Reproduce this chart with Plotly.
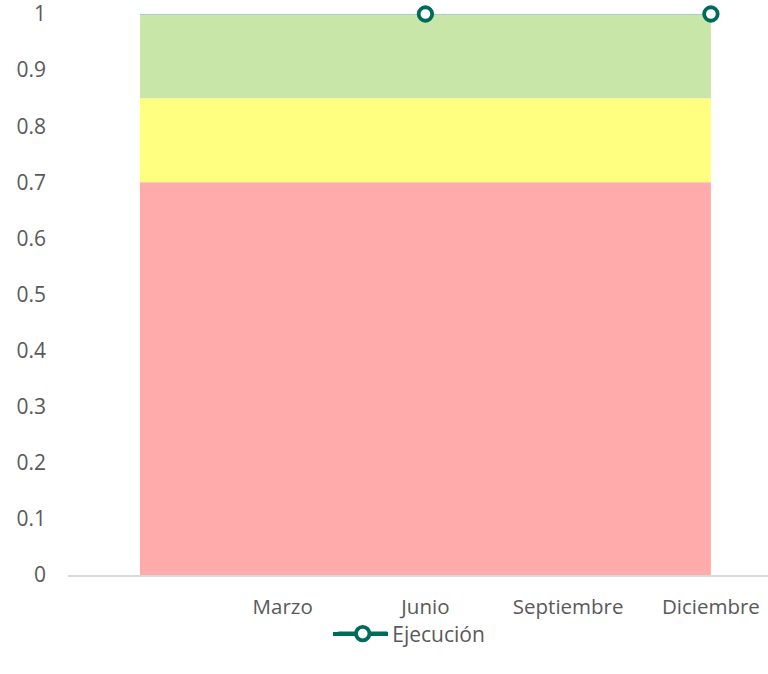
import plotly.graph_objects as go

x_idx = [0, 1, 2, 3, 4]
tick_labels = ["", "Marzo", "Junio", "Septiembre", "Diciembre"]
rojo = [0.7, 0.7, 0.7, 0.7, 0.7]
amarillo = [0.15, 0.15, 0.15, 0.15, 0.15]
verde = [0.15, 0.15, 0.15, 0.15, 0.15]
ejecucion = [None, None, 1, None, 1]

font_fam = "Open Sans"
gray = "#595959"
teal = "#006B5B"

fig = go.Figure()
fig.add_trace(go.Scatter(x=x_idx, y=rojo, stackgroup="a", mode="lines",
                         line=dict(width=0, color="#FFABAB"), fillcolor="#FFABAB",
                         showlegend=False, hoverinfo="skip"))
fig.add_trace(go.Scatter(x=x_idx, y=amarillo, stackgroup="a", mode="lines",
                         line=dict(width=0, color="#FFFF80"), fillcolor="#FFFF80",
                         showlegend=False, hoverinfo="skip"))
fig.add_trace(go.Scatter(x=x_idx, y=verde, stackgroup="a", mode="lines",
                         line=dict(width=1.5, color="#9DC3E6"), fillcolor="#C8E6A8",
                         showlegend=False, hoverinfo="skip"))
fig.add_trace(go.Scatter(x=x_idx, y=ejecucion, mode="lines+markers", name="Ejecución",
                         line=dict(width=4, color=teal),
                         marker=dict(symbol="circle", size=13.5, color="white",
                                     line=dict(width=3.8, color=teal)),
                         cliponaxis=False, connectgaps=False))

# longer legend line sample (decoration behind the legend symbol)
fig.add_shape(type="line", xref="paper", yref="paper",
              x0=(333 - 68) / 700, x1=(388 - 68) / 700, y0=-0.105, y1=-0.105,
              line=dict(color=teal, width=4))

fig.update_layout(
    width=768, height=674,
    margin=dict(l=68, r=0, t=14, b=99, autoexpand=False),
    paper_bgcolor="white", plot_bgcolor="white",
    font=dict(family=font_fam, size=20, color=gray),
    showlegend=True,
    legend=dict(orientation="h", x=0.3789, xanchor="left", y=-0.105, yanchor="middle",
                itemwidth=49, bgcolor="rgba(0,0,0,0)",
                font=dict(family=font_fam, size=21, color=gray)),
    xaxis=dict(range=[-0.504, 4.4], tickmode="array", tickvals=x_idx, ticktext=tick_labels,
               showgrid=False, zeroline=False, showline=True, linecolor="#D9D9D9", linewidth=1.5,
               ticks="", ticklabelstandoff=13, automargin=False, tickfont=dict(size=20.5),
               ticklabeloverflow="allow"),
    yaxis=dict(range=[0, 1], tickmode="array", tickvals=[i / 10 for i in range(11)],
               ticktext=["0", "0.1", "0.2", "0.3", "0.4", "0.5", "0.6", "0.7", "0.8", "0.9", "1"],
               showgrid=False, zeroline=False, showline=False, ticks="",
               ticklabelstandoff=21, automargin=False, tickfont=dict(size=21),
               ticklabeloverflow="allow"),
)

fig.write_html("out.html", post_script="document.body.style.margin='0';",
               config={"displayModeBar": False})
